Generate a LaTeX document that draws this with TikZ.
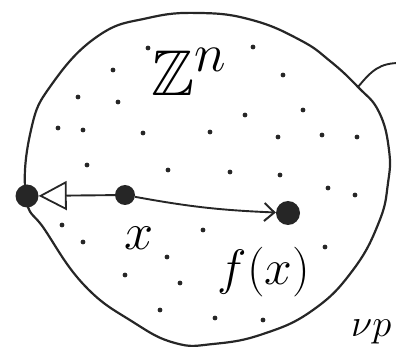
\documentclass[tikz,border=0pt]{standalone}
\usepackage{amssymb}
\usetikzlibrary{arrows.meta}
\newcommand{\bigtxt}[2]{\scalebox{#1}{\Huge #2}}
\begin{document}
\begin{tikzpicture}[x=1pt,y=-1pt,
  bigdot/.style={circle,fill=black!85,inner sep=0pt,minimum size=#1},
  lattice/.style={fill=black!85},
  hand/.style={line width=1.9pt,draw=black!85},
  lbl/.style={inner sep=0pt}]
\useasboundingbox (0,0) rectangle (396,347);
% blob boundary
\draw[hand,line width=2.2pt] plot[smooth cycle,tension=0.75] coordinates {
 (200,13) (252,20) (300,40) (330,61) (358,87) (379,112) (389,150) (388,183)
 (379,222) (353,270) (313,310) (263,334) (213,344) (175,343) (133,322)
 (85,286) (45,230) (26,197) (31,130) (52,84) (98,36) (148,18)};
% branch at top right
\coordinate (B0) at (358,87);
\coordinate (B1) at (400,63);
\draw[hand] (B0) .. controls (372,70) and (380,63) .. (B1);
% lattice points
\foreach \p in {(148,48),(253,47),(113,70),(283,75),(78,97),(118,102),(303,110),
 (245,115),(58,128),(83,130),(143,133),(210,132),(278,137),(322,135),(357,137),
 (87,165),(168,170),(230,172),(280,175),(328,188),(355,195),(62,225),(83,242),
 (203,230),(167,257),(325,247),(125,275),(180,283),(160,310),(215,318),(263,320)}
 \fill[lattice] \p circle (2.4pt);
% main points
\node[bigdot=23pt] (L) at (27,196) {};
\node[bigdot=20pt] (X) at (125,195) {};
\node[bigdot=24pt] (F) at (288,213) {};
% connectors
\draw[hand,-{Triangle[open,length=28pt,width=29pt,line width=1.8pt]}] (X) -- (L);
\draw[hand,-{Straight Barb[length=10pt,width=18pt,line width=2pt]}] (X) to[bend right=4] (F);
% labels
\node[lbl] (lx) at (139,238) {\bigtxt{2.1}{$x$}};
\node[lbl] (lf) at (264,272) {\bigtxt{2.0}{$f(x)$}};
\node[lbl] (lz) at (189,72) {\bigtxt{2.6}{$\mathbb{Z}^n$}};
\node[lbl,anchor=west] (lnu) at (351,332) {\bigtxt{1.55}{$\nu p$}};
\end{tikzpicture}
\end{document}
